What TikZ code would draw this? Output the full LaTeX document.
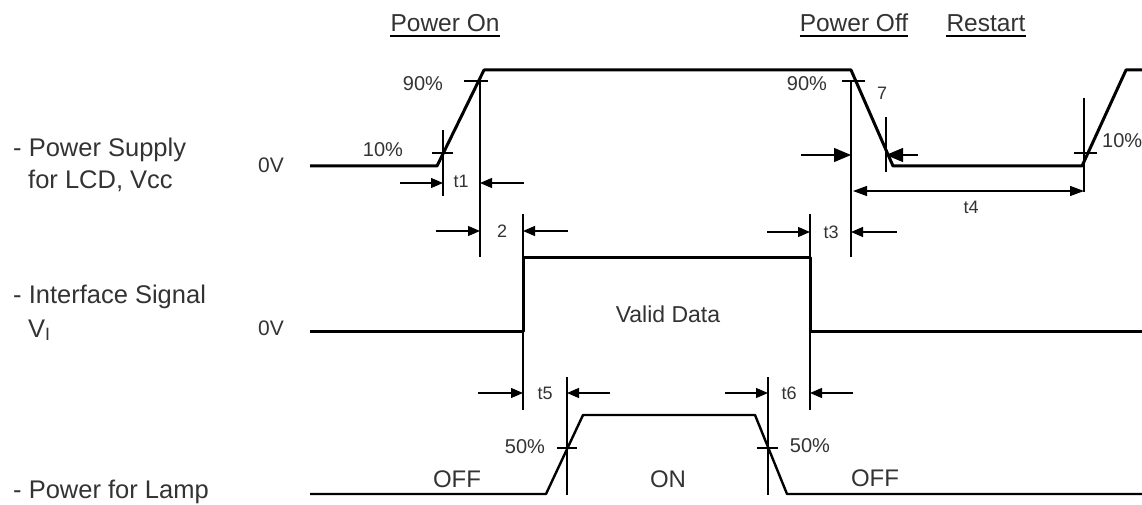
\documentclass[tikz,border=0pt]{standalone}
\usepackage{fontspec}
\setmainfont{Liberation Sans}
\usetikzlibrary{arrows.meta}
\begin{document}
\begin{tikzpicture}[x=1pt,y=-1pt,
  trace/.style={line width=3pt,line join=round},
  lamptrace/.style={line width=2.4pt,line join=round},
  guide/.style={line width=1.2pt},
  dimarr/.style={line width=1.2pt,-{Triangle[length=12pt,width=10pt]}},
  bigdimarr/.style={line width=1.2pt,-{Triangle[length=17pt,width=14pt]}},
  dblarr/.style={line width=1.2pt,{Triangle[length=14pt,width=10pt]}-{Triangle[length=14pt,width=10pt]}},
  uline/.style={line width=2pt},
  txt/.style={inner sep=0pt,anchor=base,text=black!80},
  bigtxt/.style={txt,font=\fontsize{25.5}{30}\selectfont},
  headtxt/.style={txt,font=\fontsize{24.5}{29}\selectfont},
  pcttxt/.style={txt,font=\fontsize{20}{24}\selectfont},
  tltxt/.style={txt,font=\fontsize{18}{22}\selectfont},
]
\useasboundingbox[fill=white] (0,0) rectangle (1142,505);

% ---------- headers ----------
\node[headtxt] (pon) at (445,32) {Power On};
\node[headtxt] (poff) at (854,32) {Power Off};
\node[headtxt] (rst) at (986,32) {Restart};
\foreach \n in {pon,poff,rst}
  \draw[uline] ([yshift=-4pt]\n.base west) -- ([yshift=-4pt]\n.base east);

% ---------- left labels ----------
\node[bigtxt,anchor=base west] (l1) at (13,157) {- Power Supply};
\node[bigtxt,anchor=base west] (l2) at (28,189) {for LCD, Vcc};
\node[bigtxt,anchor=base west] (l3) at (13,303) {- Interface Signal};
\node[bigtxt,anchor=base west] (l4) at (28,337) {V$_{\mathrm{I}}$};
\node[bigtxt,anchor=base west] (l5) at (13,498) {- Power for Lamp};
\node[pcttxt,anchor=base east,font=\fontsize{21}{25}\selectfont] (z1) at (284,172) {0V};
\node[pcttxt,anchor=base east,font=\fontsize{21}{25}\selectfont] (z2) at (284,335) {0V};

% ---------- Vcc trace ----------
\coordinate (v0) at (310,166);
\coordinate (v1) at (437,166);
\coordinate (v2) at (484,70);
\coordinate (v3) at (851,70);
\coordinate (v4) at (893,166);
\coordinate (v5) at (1082,166);
\coordinate (v6) at (1126,70);
\coordinate (v7) at (1145,70);
\draw[trace] (v0) -- (v1) -- (v2) -- (v3) -- (v4) -- (v5) -- (v6) -- (v7);

% ---------- Interface signal ----------
\coordinate (s0) at (310,331);
\coordinate (s1) at (523,331);
\coordinate (s2) at (523,257);
\coordinate (s3) at (810,257);
\coordinate (s4) at (810,331);
\coordinate (s5) at (1145,331);
\draw[trace] (s0) -- (s1) -- (s2) -- (s3) -- (s4) -- (s5);

% ---------- Lamp ----------
\coordinate (p0) at (310,494);
\coordinate (p1) at (546,494);
\coordinate (p2) at (583,415);
\coordinate (p3) at (755,415);
\coordinate (p4) at (787,494);
\coordinate (p5) at (1145,494);
\draw[lamptrace] (p0) -- (p1) -- (p2) -- (p3) -- (p4) -- (p5);

% ---------- ticks ----------
\draw[guide] (432,153) -- (453,153);
\draw[guide] (464,81) -- (488,81);
\draw[guide] (842,81) -- (865,81);
\draw[guide] (1074,153) -- (1097,153);
\draw[guide] (557,448) -- (577,448);
\draw[guide] (757,448) -- (778,448);

% ---------- guide verticals ----------
\coordinate (g1t) at (443,130);  \coordinate (g1b) at (443,196);
\coordinate (g2t) at (480,81);   \coordinate (g2b) at (480,257);
\coordinate (g3t) at (523,214);  \coordinate (g3b) at (523,410);
\coordinate (g4t) at (567,377);  \coordinate (g4b) at (567,495);
\coordinate (g5t) at (768,377);  \coordinate (g5b) at (768,495);
\coordinate (g6t) at (810,214);  \coordinate (g6b) at (810,410);
\coordinate (g7t) at (851,81);   \coordinate (g7b) at (851,257);
\coordinate (g8t) at (886,117);  \coordinate (g8b) at (886,172);
\coordinate (g9t) at (1084,98);  \coordinate (g9b) at (1084,192);
\foreach \g in {g1,g2,g3,g4,g5,g6,g7,g8,g9}
  \draw[guide] (\g t) -- (\g b);

% ---------- dimension arrows ----------
\coordinate (a1l) at (400,183);  \coordinate (a1r) at (524,183);
\draw[dimarr] (a1l) -- (a1l -| g1t);
\draw[dimarr] (a1r) -- (a1r -| g2t);
\coordinate (a2l) at (436,231);  \coordinate (a2r) at (568,231);
\draw[dimarr] (a2l) -- (a2l -| g2t);
\draw[dimarr] (a2r) -- (a2r -| g3t);
\coordinate (a3l) at (767,232);  \coordinate (a3r) at (897,232);
\draw[dimarr] (a3l) -- (a3l -| g6t);
\draw[dimarr] (a3r) -- (a3r -| g7t);
\coordinate (a7l) at (801,155);  \coordinate (a7r) at (918,155);
\draw[bigdimarr] (a7l) -- (a7l -| g7t);
\draw[bigdimarr] (a7r) -- (a7r -| g8t);
\coordinate (a4) at (853,191);
\draw[dblarr] (a4) -- (a4 -| g9t);
\coordinate (a5l) at (478,393);  \coordinate (a5r) at (610,393);
\draw[dimarr] (a5l) -- (a5l -| g3t);
\draw[dimarr] (a5r) -- (a5r -| g4t);
\coordinate (a6l) at (725,393);  \coordinate (a6r) at (853,393);
\draw[dimarr] (a6l) -- (a6l -| g5t);
\draw[dimarr] (a6r) -- (a6r -| g6t);

% ---------- labels ----------
\node[pcttxt] (p90a) at (423,91) {90\%};
\node[pcttxt] (p10a) at (383,157) {10\%};
\node[pcttxt] (p90b) at (807,91) {90\%};
\node[pcttxt,anchor=base west] (p10b) at (1102,148) {10\%};
\node[pcttxt] (p50a) at (525,453) {50\%};
\node[pcttxt] (p50b) at (810,452) {50\%};

\node[tltxt] (lt1) at (461,187) {t1};
\node[tltxt] (lt2) at (502,237) {2};
\node[tltxt] (lt3) at (831,238) {t3};
\node[tltxt] (lt7) at (882,100) {7};
\node[tltxt] (lt4) at (971,213) {t4};
\node[tltxt] (lt5) at (545,399) {t5};
\node[tltxt] (lt6) at (789,399) {t6};

\node[txt,font=\fontsize{23}{28}\selectfont] (vd) at (668,322) {Valid Data};
\node[txt,font=\fontsize{24}{29}\selectfont] (off1) at (457,487) {OFF};
\node[txt,font=\fontsize{24}{29}\selectfont] (on) at (668,487) {ON};
\node[txt,font=\fontsize{24}{29}\selectfont] (off2) at (875,486) {OFF};
\end{tikzpicture}
\end{document}
